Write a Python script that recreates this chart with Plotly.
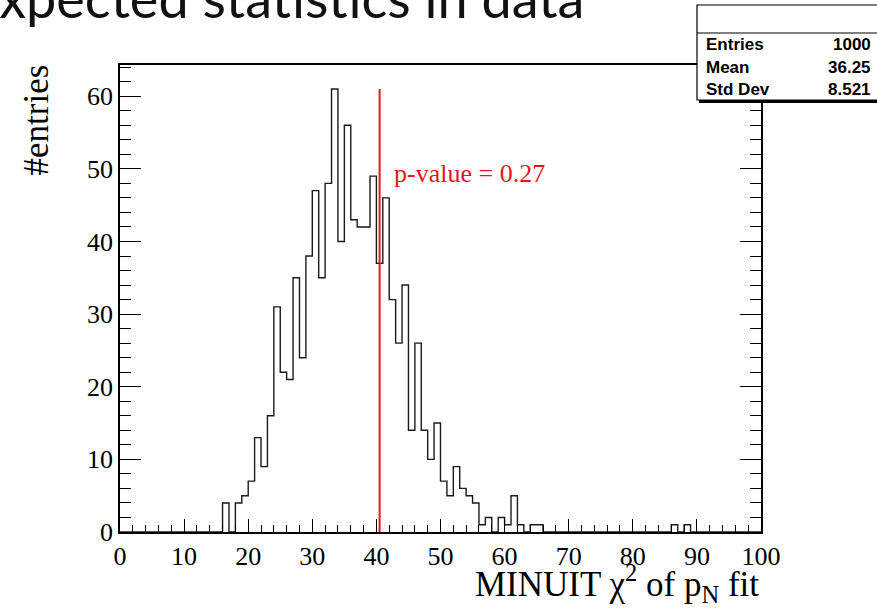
import plotly.graph_objects as go

# ---------------- data ----------------
bin_low = [16, 17, 18, 19, 20, 21, 22, 23, 24, 25, 26, 27, 28, 29, 30, 31, 32, 33, 34, 35,
           36, 37, 38, 39, 40, 41, 42, 43, 44, 45, 46, 47, 48, 49, 50, 51, 52, 53, 54, 55,
           56, 57, 58, 59, 60, 61, 62, 63, 64, 65, 86, 88]
counts = [4, 0, 4, 5, 7, 13, 9, 16, 31, 22, 21, 35, 24, 38, 47, 35, 48, 61, 40, 56,
          43, 42, 42, 49, 37, 46, 32, 26, 34, 14, 26, 14, 10, 15, 7, 5, 9, 6, 5, 4,
          1, 2, 0, 2, 1, 5, 1, 0, 1, 1, 1, 1]
x_min, x_max = 0, 100
pvalue_x = 40.5
pvalue_line_top = 61
pvalue_label = "p-value = 0.27"
stats_labels = ["Entries", "Mean", "Std Dev"]
stats_values = ["1000", "36.25", "8.521"]
x_ticks = [0, 10, 20, 30, 40, 50, 60, 70, 80, 90, 100]
y_ticks = [0, 10, 20, 30, 40, 50, 60]

# full histogram (unit-width bins)
full = [0] * (x_max - x_min)
for b, c in zip(bin_low, counts):
    full[b - x_min] = c
edges = list(range(x_min, x_max + 1))
step_y = full + [full[-1]]

W, H = 877, 615
L, R, T, B = 120, 116, 65, 83
PW, PH = W - L - R, H - T - B


def px(x):
    return (x - L) / PW


def py(y):
    return (H - B - y) / PH


serif = "Liberation Serif"
fig = go.Figure()
fig.add_trace(go.Scatter(x=edges, y=step_y, mode="lines", line_shape="hv",
                         line=dict(color="#1a1a1a", width=1.4), showlegend=False,
                         hoverinfo="skip"))
fig.add_trace(go.Scatter(x=[pvalue_x, pvalue_x], y=[0, pvalue_line_top], mode="lines",
                         line=dict(color="#e8141c", width=2), showlegend=False,
                         hoverinfo="skip"))

fig.update_layout(
    width=W, height=H, margin=dict(l=L, r=R, t=T, b=B),
    paper_bgcolor="white", plot_bgcolor="white",
    font=dict(family=serif, size=26, color="black"),
    xaxis=dict(range=[x_min, x_max], tickvals=x_ticks, ticks="inside", ticklen=13,
               tickwidth=1.2, tickcolor="black", showline=True, linecolor="black",
               linewidth=1.5, mirror=True, showgrid=False, zeroline=False,
               minor=dict(dtick=2, ticks="inside", ticklen=7, tickcolor="black",
                          tickwidth=1.2, showgrid=False),
               tickfont=dict(family=serif, size=26)),
    yaxis=dict(range=[0, 64.3], tickvals=y_ticks, ticks="inside", ticklen=21,
               tickwidth=1.2, tickcolor="black", showline=True, linecolor="black",
               linewidth=1.5, mirror="ticks", showgrid=False, zeroline=False,
               minor=dict(dtick=2, ticks="inside", ticklen=11, tickcolor="black",
                          tickwidth=1.2, showgrid=False),
               tickfont=dict(family=serif, size=26)),
)

annotations = [
    dict(text=pvalue_label, x=pvalue_x + 1.9, y=49.4, xref="x", yref="y",
         xanchor="left", yanchor="middle", showarrow=False,
         font=dict(family=serif, size=26, color="#e8141c")),
    dict(text="MINUIT χ<sup>2</sup> of p<sub>N</sub> fit", x=px(761), y=py(583),
         xref="paper", yref="paper", xanchor="right", yanchor="middle",
         showarrow=False, font=dict(family=serif, size=35)),
    dict(text="#entries", x=px(36), y=py(63), xref="paper", yref="paper",
         xanchor="center", yanchor="top", textangle=-90, showarrow=False,
         font=dict(family=serif, size=35)),
    dict(text="Expected statistics in data", x=px(586), y=py(-3), xref="paper",
         yref="paper", xanchor="right", yanchor="middle", showarrow=False,
         font=dict(family="Lato", size=54, color="#111")),
]
row_y = [45, 67, 89]
for lab, val, yy in zip(stats_labels, stats_values, row_y):
    annotations.append(dict(text="<b>%s</b>" % lab, x=px(704), y=py(yy), xref="paper",
                            yref="paper", xanchor="left", yanchor="middle",
                            showarrow=False,
                            font=dict(family="Liberation Sans", size=17)))
    annotations.append(dict(text="<b>%s</b>" % val, x=px(873), y=py(yy), xref="paper",
                            yref="paper", xanchor="right", yanchor="middle",
                            showarrow=False,
                            font=dict(family="Liberation Sans", size=17)))
fig.update_layout(annotations=annotations)

shapes = [
    dict(type="rect", xref="paper", yref="paper", x0=px(699), x1=px(960),
         y0=py(103), y1=py(8), fillcolor="black", line=dict(width=0), layer="above"),
    dict(type="rect", xref="paper", yref="paper", x0=px(697), x1=px(958),
         y0=py(100), y1=py(5), fillcolor="white", line=dict(color="black", width=1.2),
         layer="above"),
    dict(type="line", xref="paper", yref="paper", x0=px(697), x1=px(958),
         y0=py(33), y1=py(33), line=dict(color="black", width=1.2), layer="above"),
]
fig.update_layout(shapes=shapes)

fig.write_html("out.html")
